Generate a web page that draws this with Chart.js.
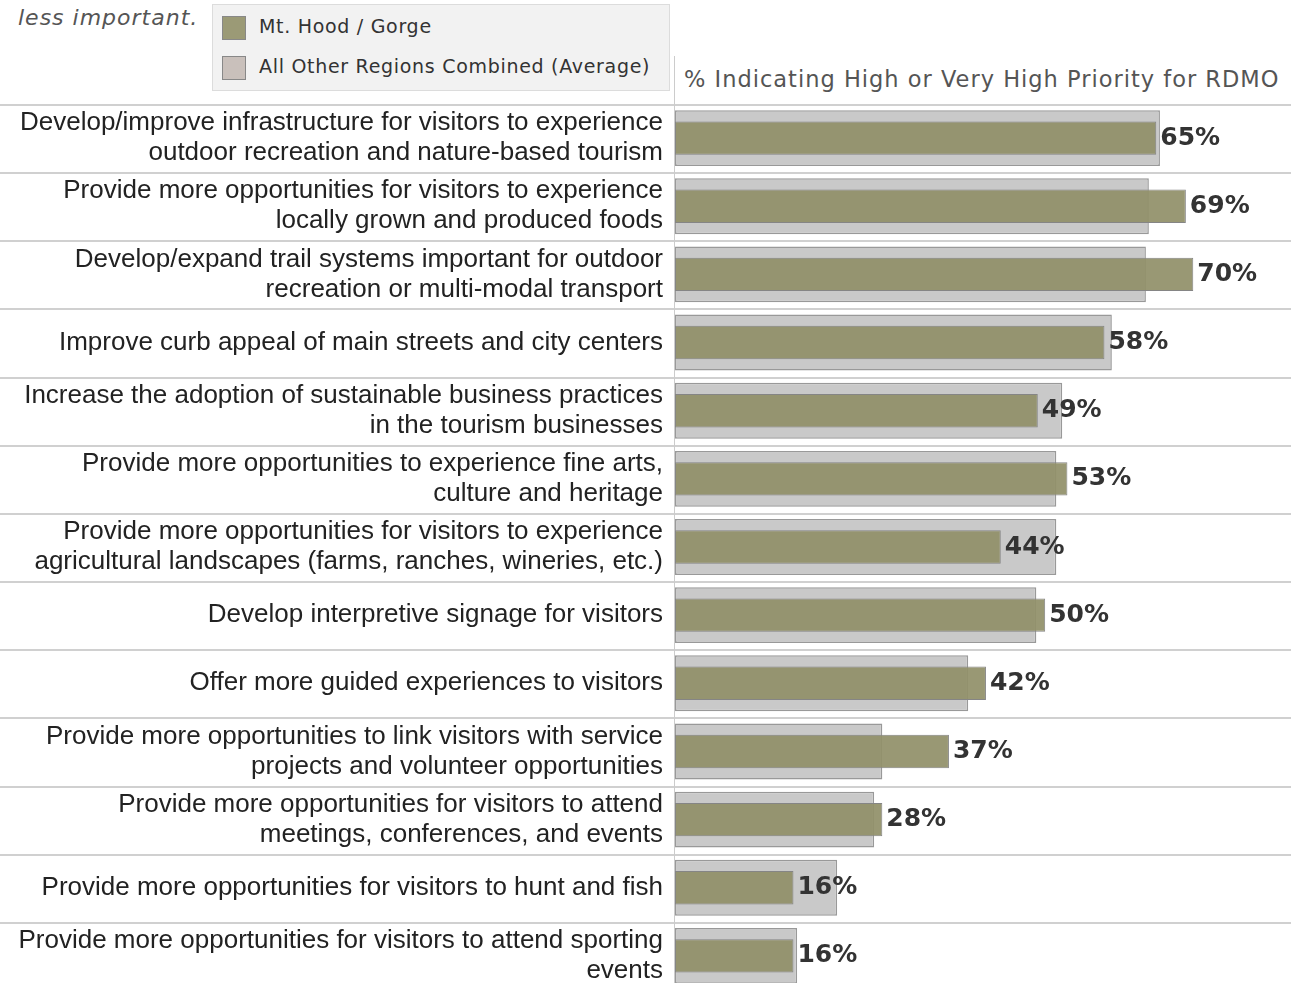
<!DOCTYPE html>
<html>
<head>
<meta charset="utf-8">
<script src="https://cdn.jsdelivr.net/npm/chart.js@4.4.0/dist/chart.umd.min.js"></script>
<style>
  html, body { margin: 0; padding: 0; background: #fff; }
  body { width: 1291px; height: 983px; overflow: hidden; position: relative; font-family: "Liberation Sans", Arial, sans-serif; }
  #note { position: absolute; left: 18px; top: 5px; font: italic 22px "DejaVu Sans", sans-serif; letter-spacing: 1px; color: #555; }
  #legend { position: absolute; left: 212px; top: 4px; width: 458px; height: 87px; background: #f2f2f2; border: 1px solid #dcdcdc; box-sizing: border-box; }
  .item { position: absolute; left: 9px; height: 24px; font: 19px "DejaVu Sans", sans-serif; letter-spacing: 0.7px; color: #333; line-height: 24px; white-space: nowrap; }
  .sw { display: inline-block; width: 24px; height: 24px; border: 1px solid #888; box-sizing: border-box; vertical-align: middle; margin-right: 13px; }
  #title { position: absolute; left: 684px; top: 66px; font: 22.5px "DejaVu Sans", sans-serif; letter-spacing: 1px; color: #555; white-space: nowrap; }
  #vline { position: absolute; left: 674px; top: 56px; width: 1px; height: 48px; background: #ccc; }
  #wrap { position: absolute; left: 0; top: 104px; width: 1291px; height: 886px; }
</style>
</head>
<body>
<div id="note">less important.</div>
<div id="legend">
  <div class="item" style="top:9px"><span class="sw" style="background:#9b9a76"></span>Mt. Hood / Gorge</div>
  <div class="item" style="top:49px"><span class="sw" style="background:#c9c0bb"></span>All Other Regions Combined (Average)</div>
</div>
<div id="title">% Indicating High or Very High Priority for RDMO</div>
<div id="vline"></div>
<div id="wrap"><canvas id="chart"></canvas></div>
<script>
const categories = [
  ['Develop/improve infrastructure for visitors to experience', 'outdoor recreation and nature-based tourism'],
  ['Provide more opportunities for visitors to experience', 'locally grown and produced foods'],
  ['Develop/expand trail systems important for outdoor', 'recreation or multi-modal transport'],
  'Improve curb appeal of main streets and city centers',
  ['Increase the adoption of sustainable business practices', 'in the tourism businesses'],
  ['Provide more opportunities to experience fine arts,', 'culture and heritage'],
  ['Provide more opportunities for visitors to experience', 'agricultural landscapes (farms, ranches, wineries, etc.)'],
  'Develop interpretive signage for visitors',
  'Offer more guided experiences to visitors',
  ['Provide more opportunities to link visitors with service', 'projects and volunteer opportunities'],
  ['Provide more opportunities for visitors to attend', 'meetings, conferences, and events'],
  'Provide more opportunities for visitors to hunt and fish',
  ['Provide more opportunities for visitors to attend sporting', 'events']
];
const mtHood = [65, 69, 70, 58, 49, 53, 44, 50, 42, 37, 28, 16, 16];
const otherRegions = [65.5, 64, 63.6, 59, 52.3, 51.5, 51.5, 48.8, 39.6, 28, 26.9, 21.9, 16.5];

// row separators across the whole width + value labels
const extras = {
  id: 'extras',
  beforeDatasetsDraw(chart) {
    const ctx = chart.ctx;
    const y = chart.scales.y;
    const n = categories.length;
    const step = (y.bottom - y.top) / n;
    ctx.save();
    ctx.strokeStyle = '#d0d0d0';
    ctx.lineWidth = 2;
    for (let i = 0; i <= n; i++) {
      const py = Math.round(y.top + i * step) + 1;
      ctx.beginPath();
      ctx.moveTo(0, py);
      ctx.lineTo(chart.width, py);
      ctx.stroke();
    }
    ctx.strokeStyle = '#ccc';
    ctx.lineWidth = 1;
    ctx.beginPath();
    ctx.moveTo(chart.chartArea.left - 0.5, 0);
    ctx.lineTo(chart.chartArea.left - 0.5, chart.height);
    ctx.stroke();
    ctx.restore();
  },
  afterDatasetsDraw(chart) {
    const ctx = chart.ctx;
    const meta = chart.getDatasetMeta(0);
    ctx.save();
    ctx.font = 'bold 25px "DejaVu Sans", sans-serif';
    ctx.fillStyle = '#333';
    ctx.textBaseline = 'middle';
    meta.data.forEach((bar, i) => {
      ctx.fillText(mtHood[i] + '%', bar.x + 4, bar.y);
    });
    ctx.restore();
  }
};

new Chart(document.getElementById('chart'), {
  type: 'bar',
  data: {
    labels: categories,
    datasets: [
      {
        label: 'Mt. Hood / Gorge',
        data: mtHood,
        backgroundColor: 'rgba(145,144,105,0.93)',
        borderColor: '#858585',
        borderWidth: 1,
        borderSkipped: false,
        barPercentage: 0.49,
        categoryPercentage: 1,
        grouped: false
      },
      {
        label: 'All Other Regions Combined (Average)',
        data: otherRegions,
        backgroundColor: '#c9c9c9',
        borderColor: '#999',
        borderWidth: 1.5,
        borderSkipped: false,
        barPercentage: 0.82,
        categoryPercentage: 1,
        grouped: false
      }
    ]
  },
  options: {
    indexAxis: 'y',
    responsive: true,
    maintainAspectRatio: false,
    animation: false,
    layout: { padding: 0, autoPadding: false },
    plugins: {
      legend: { display: false },
      tooltip: { enabled: false }
    },
    scales: {
      x: {
        display: false,
        min: 0,
        max: 83.2
      },
      y: {
        afterFit(scale) {
          scale.width = 675;
          scale.paddingTop = 0;
          scale.paddingBottom = 0;
        },
        grid: { display: false, drawTicks: false },
        border: { display: false },
        ticks: {
          padding: 12,
          color: '#222',
          font: { family: '"Liberation Sans", Arial, sans-serif', size: 26, lineHeight: 1.15 }
        }
      }
    }
  },
  plugins: [extras]
});
</script>
</body>
</html>
